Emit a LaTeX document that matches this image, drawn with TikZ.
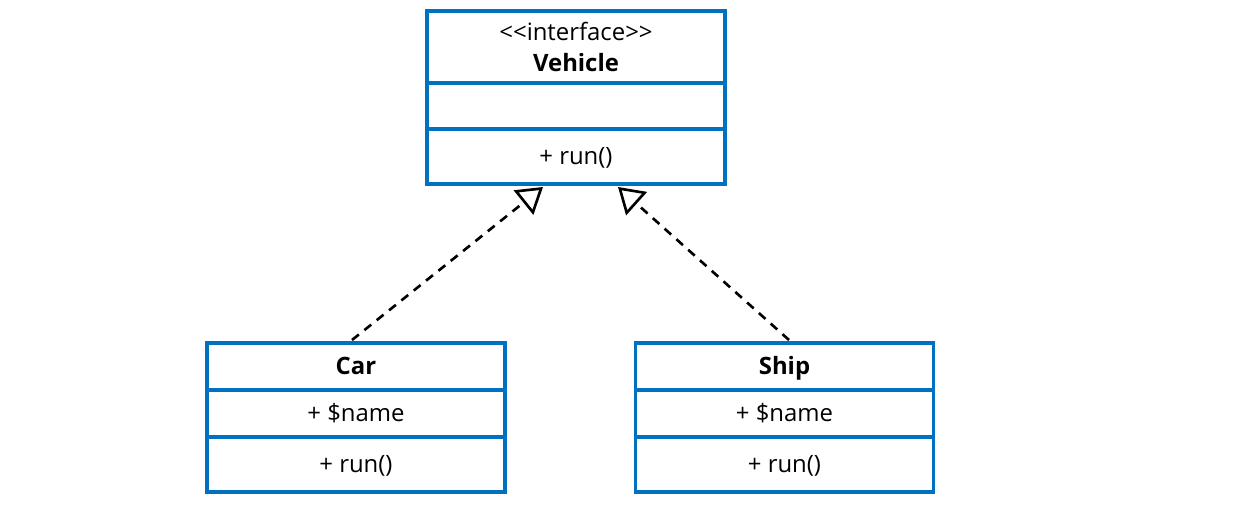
\documentclass[tikz,border=0pt]{standalone}
\usepackage{fontspec}
\setmainfont{Open Sans}
\usepackage{tikz}
\usetikzlibrary{positioning,arrows.meta}
\definecolor{umlBlue}{HTML}{0070C0}
\tikzset{
  umlpart/.style={draw=umlBlue, line width=2pt, rectangle, outer sep=0pt,
                  minimum width=5.96cm, inner sep=2pt, align=center,
                  font=\fontsize{13.6}{17.5}\selectfont},
  umlrow/.style={umlpart, text height=9.4pt, text depth=0pt},
  umlhead/.style={umlrow, minimum height=0.94cm},
  umlihead/.style={umlpart, minimum height=1.44cm},
  umlattr/.style={umlrow, minimum height=0.94cm},
  umlmeth/.style={umlrow, minimum height=1.10cm},
  realizearrow/.style={-{Triangle[open, length=0.5cm, width=0.62cm, line width=1.5pt]},
                       line width=1.5pt, dash pattern=on 5pt off 4pt},
}
\begin{document}
\begin{tikzpicture}
\useasboundingbox (0,0) rectangle (24.98,-10.22);
%% Nodes
\node[umlihead] (vehHead) at (11.52,-0.94)
  {<\kern0pt<interface>\kern0pt>\\[0pt]\textbf{Vehicle}};
\node[umlattr, minimum height=0.92cm, below=0cm of vehHead] (vehAttr) {};
\node[umlmeth, below=0cm of vehAttr] (vehMeth) {+ run()};
\node[umlhead] (carHead) at (7.12,-7.33) {\textbf{Car}};
\node[umlattr, below=0cm of carHead] (carAttr) {+ \$name};
\node[umlmeth, below=0cm of carAttr] (carMeth) {+ run()};
\node[umlhead] (shipHead) at (15.69,-7.33) {\textbf{Ship}};
\node[umlattr, below=0cm of shipHead] (shipAttr) {+ \$name};
\node[umlmeth, below=0cm of shipAttr] (shipMeth) {+ run()};
%% Edges
\draw[realizearrow] ([xshift=-0.08cm,yshift=0.06cm]carHead.north)
  -- ([xshift=-0.66cm,yshift=-0.06cm]vehMeth.south);
\draw[realizearrow] ([xshift=0.09cm,yshift=0.06cm]shipHead.north)
  -- ([xshift=0.84cm,yshift=-0.06cm]vehMeth.south);
\end{tikzpicture}
\end{document}
